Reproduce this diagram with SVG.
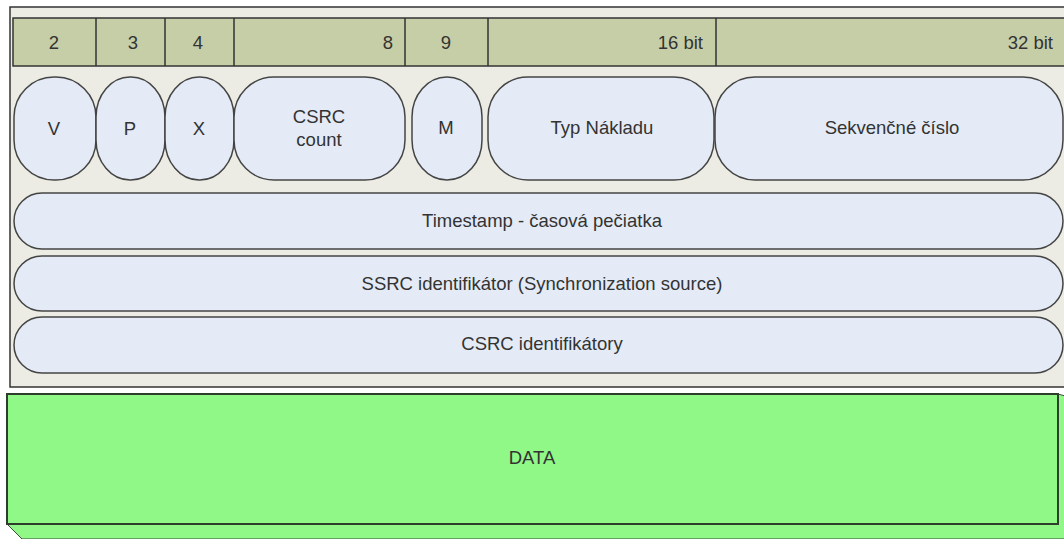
<svg xmlns="http://www.w3.org/2000/svg" width="1064" height="539" viewBox="0 0 1064 539">
<style>
text{font-family:"Liberation Sans",Arial,sans-serif;font-size:18.5px;fill:#333;text-anchor:middle}
.hdr{fill:#c6cea8;stroke:#333;stroke-width:1.5}
.pill{fill:#e4ebf6;stroke:#444;stroke-width:1.5}
.sh{fill:none;stroke:#9a9ea8;stroke-width:2}
.r{text-anchor:end}
</style>
<rect width="1064" height="539" fill="#fff"/>
<g id="frame">
<rect x="10" y="7" width="1070" height="380" fill="#ecece4" stroke="#333" stroke-width="1.5"/>
</g>
<g id="header">
<rect class="hdr" x="13" y="18" width="1070" height="48"/>
<path d="M96 18V66M165 18V66M234 18V66M405 18V66M488 18V66M716 18V66" stroke="#333" stroke-width="1.5"/>
<text x="54" y="49">2</text>
<text x="133" y="49">3</text>
<text x="198" y="49">4</text>
<text class="r" x="393" y="49">8</text>
<text x="446" y="49">9</text>
<text class="r" x="703" y="49">16 bit</text>
<text class="r" x="1053" y="49">32 bit</text>
</g>
<g id="V"><rect class="pill" x="14" y="77" width="82" height="103" rx="40" ry="40"/><text x="54" y="135">V</text></g>
<g id="P"><rect class="pill" x="96" y="77" width="69" height="103" rx="34" ry="40"/><text x="130" y="135">P</text></g>
<g id="X"><rect class="pill" x="165" y="77" width="69" height="103" rx="34" ry="40"/><text x="199" y="135">X</text></g>
<g id="CC"><rect class="pill" x="234" y="77" width="171" height="103" rx="40" ry="40"/><text x="319" y="123">CSRC</text><text x="319" y="146">count</text></g>
<g id="M"><rect class="pill" x="412" y="77" width="70" height="103" rx="35" ry="40"/><text x="446" y="134">M</text></g>
<g id="PT"><rect class="pill" x="488" y="77" width="226" height="103" rx="40" ry="40"/><text x="602" y="134">Typ Nákladu</text></g>
<g id="SEQ"><rect class="pill" x="715" y="77" width="348" height="103" rx="40" ry="40"/><text x="892" y="134">Sekvenčné číslo</text></g>
<g id="TS"><rect class="pill" x="14" y="193" width="1049" height="56" rx="28" ry="28"/><text x="542" y="227">Timestamp - časová pečiatka</text></g>
<g id="SSRC"><rect class="pill" x="14" y="256" width="1049" height="55" rx="28" ry="28"/><text x="542" y="290">SSRC identifikátor (Synchronization source)</text></g>
<g id="CSRC"><rect class="pill" x="14" y="317" width="1049" height="56" rx="28" ry="28"/><text x="542" y="350">CSRC identifikátory</text></g>
<g id="DATA">
<path d="M7 524L22 539H1080V400L1058 394V524Z" fill="#90f887" stroke="#3a4a38" stroke-width="1"/>
<rect x="7" y="394" width="1051" height="130" fill="#90f887" stroke="#2e3d2c" stroke-width="2"/>
<text x="532" y="464">DATA</text>
</g>
<g id="connectors"></g>
</svg>
